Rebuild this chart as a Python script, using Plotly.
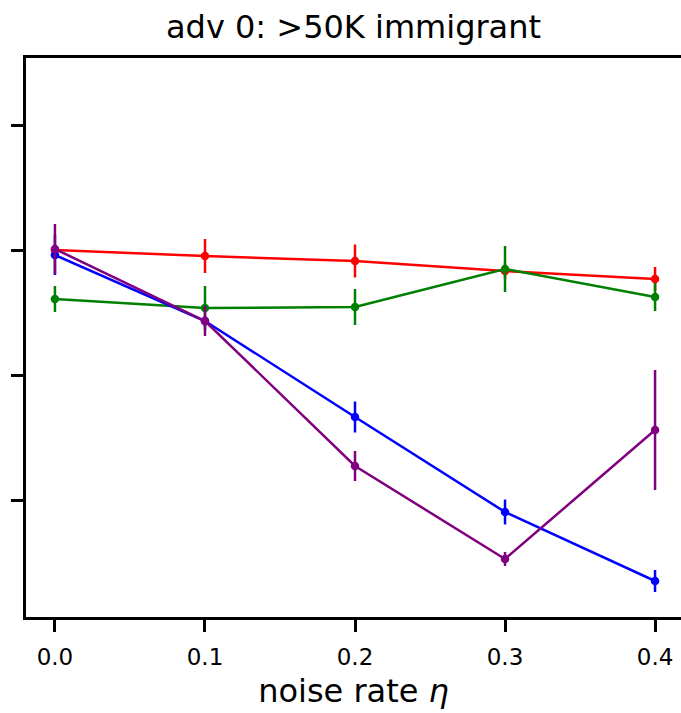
import plotly.graph_objects as go

noise = [0.0, 0.1, 0.2, 0.3, 0.4]
x_ticks = [0.0, 0.1, 0.2, 0.3, 0.4]
x_tick_labels = ["0.0", "0.1", "0.2", "0.3", "0.4"]
y_ticks = [0.6, 0.7, 0.8, 0.9]

red_y = [0.8000, 0.7952, 0.7912, 0.7832, 0.7768]
red_err = [0.004, 0.0136, 0.0132, 0.0064, 0.0096]
green_y = [0.7608, 0.7536, 0.7544, 0.7848, 0.7624]
green_err = [0.0104, 0.0176, 0.0144, 0.0184, 0.0112]
blue_y = [0.7960, 0.7432, 0.6664, 0.5904, 0.5352]
blue_err = [0.016, 0.004, 0.0124, 0.010, 0.0088]
purple_y = [0.8008, 0.7432, 0.6272, 0.5528, 0.6560]
purple_err = [0.020, 0.012, 0.012, 0.0056, 0.048]

series = [
    ("red", red_y, red_err, "#ff0000"),
    ("green", green_y, green_err, "#008000"),
    ("blue", blue_y, blue_err, "#0000ff"),
    ("purple", purple_y, purple_err, "#800080"),
]

fig = go.Figure()
for name, ys, errs, col in series:
    fig.add_trace(go.Scatter(
        x=noise, y=ys, name=name, mode="lines+markers",
        line=dict(color=col, width=2.5),
        marker=dict(color=col, size=8.5),
        error_y=dict(type="data", array=errs, visible=True, color=col,
                     thickness=2.5, width=0),
        showlegend=False,
    ))

fig.update_layout(
    width=681, height=713,
    margin=dict(l=26, r=0, t=58, b=96),
    paper_bgcolor="white", plot_bgcolor="white",
    font=dict(family="DejaVu Sans", color="black"),
    title=dict(text="adv 0: >50K immigrant", x=0.5, xref="paper",
               xanchor="center", y=1 - 27 / 713, yanchor="middle",
               font=dict(size=32, family="DejaVu Sans")),
)
fig.update_xaxes(
    range=[-0.0193, 0.4173], tickvals=x_ticks, ticktext=x_tick_labels,
    showgrid=False, zeroline=False, showline=True, linecolor="black",
    linewidth=3, mirror=True, ticks="outside", ticklen=12, tickwidth=3,
    tickcolor="black", tickfont=dict(size=23, family="DejaVu Sans"),
    ticklabelstandoff=5,
    title=dict(text="noise rate <i>η</i>", font=dict(size=32, family="DejaVu Sans"),
               standoff=12),
)
fig.update_yaxes(
    range=[0.5064, 0.9536], tickvals=y_ticks, showticklabels=False,
    showgrid=False, zeroline=False, showline=True, linecolor="black",
    linewidth=3, mirror=False, ticks="outside", ticklen=12, tickwidth=3,
    tickcolor="black",
)

fig.write_html("out.html")
